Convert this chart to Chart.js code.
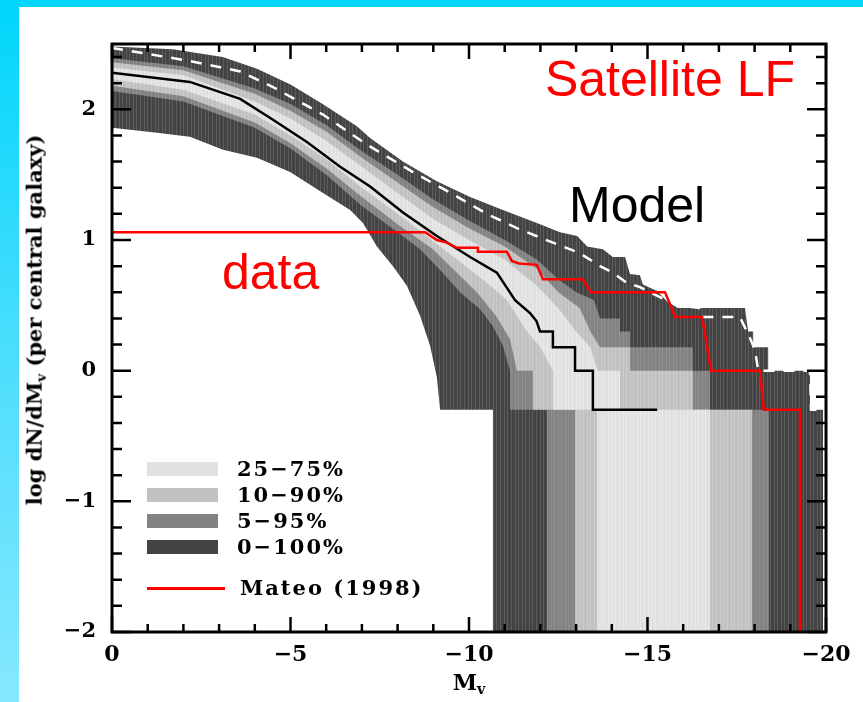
<!DOCTYPE html>
<html>
<head>
<meta charset="utf-8">
<script src="https://cdn.jsdelivr.net/npm/chart.js@4.4.0/dist/chart.umd.min.js"></script>
<style>
    html, body { margin: 0; padding: 0; }
    body {
        width: 863px; height: 702px; overflow: hidden; position: relative;
        background: linear-gradient(to bottom, #00d6fb 0%, #52defd 55%, #86e8ff 100%);
    }
    #panel { position: absolute; left: 19px; top: 7px; width: 844px; height: 695px; background: #fff; }
    #chart { position: absolute; left: 0; top: 0; }
    .big { position: absolute; font-family: 'Liberation Sans', Arial, sans-serif; font-size: 50px; line-height: 50px; white-space: nowrap; }
    .lab { position: absolute; font-family: 'DejaVu Serif', serif; font-weight: bold; white-space: nowrap; line-height: 1; }
    .lab sub { font-size: 65%; vertical-align: -0.3em; }
    .leg-row { position: absolute; left: 147px; height: 20px; }
    .leg-box { position: absolute; left: 0; top: 3px; width: 71px; height: 14px; }
    .leg-text { position: absolute; left: 90px; top: 0; line-height: 20px; font-size: 21px; letter-spacing: 2px; }
</style>
</head>
<body>
<div id="panel"></div>
<canvas id="chart" width="863" height="702"></canvas>

<div class="big" style="right: 68px; top: 54px; color: #ff0000;">Satellite LF</div>
<div class="big" style="left: 569px; top: 180px; color: #000;">Model</div>
<div class="big" style="left: 222px; top: 247px; color: #ff0000;">data</div>

<div class="lab" style="left: 36px; top: 320px; font-size: 21px; transform: translate(-50%, -50%) rotate(-90deg);">log dN/dM<sub>v</sub> (per central galaxy)</div>
<div class="lab" style="left: 469px; top: 671px; font-size: 22px; transform: translateX(-50%);">M<sub>v</sub></div>

<div id="legend"></div>

<script>
// Model percentile bands: [M_V, log dN/dM_V] along each boundary
const p100 = [[0, 2.48], [-1.7, 2.46], [-3.1, 2.40], [-4.06, 2.31], [-5.0, 2.19], [-5.9, 2.04], [-6.86, 1.87],
    [-7.23, 1.78], [-8.15, 1.60], [-9.1, 1.45], [-10.03, 1.33], [-10.95, 1.23], [-11.9, 1.13], [-12.55, 1.06],
    [-13.03, 1.03], [-13.31, 0.95], [-13.75, 0.93], [-14.03, 0.87], [-14.37, 0.87], [-14.51, 0.74], [-14.79, 0.73],
    [-14.87, 0.66], [-15.27, 0.61], [-15.55, 0.53], [-15.85, 0.48], [-17.73, 0.48], [-17.82, 0.30], [-17.96, 0.30],
    [-17.96, 0.18], [-18.38, 0.18], [-18.38, 0.0], [-19.55, 0.0], [-19.55, -0.30], [-19.92, -0.30]];
const p0 = [[0, 1.86], [-1.26, 1.82], [-2.18, 1.79], [-3.11, 1.69], [-4.06, 1.63], [-4.99, 1.52], [-5.91, 1.36],
    [-6.67, 1.23], [-7.03, 1.13], [-7.42, 0.95], [-7.87, 0.80], [-8.26, 0.65], [-8.63, 0.42], [-8.91, 0.19],
    [-9.10, -0.05], [-9.19, -0.30], [-10.67, -0.30], [-10.67, -2], [-19.92, -2]];
const p95 = [[0, 2.39], [-2, 2.33], [-4, 2.16], [-5, 2.04], [-6, 1.88], [-7, 1.68], [-8, 1.50], [-9, 1.31],
    [-10, 1.15], [-11, 1.00], [-11.9, 0.85], [-12.5, 0.70], [-13.0, 0.60], [-13.5, 0.54], [-13.67, 0.40],
    [-14.23, 0.40], [-14.23, 0.30], [-14.51, 0.30], [-14.51, 0.18], [-16.27, 0.18], [-16.27, 0.0], [-16.75, 0.0],
    [-16.75, -0.30], [-18.4, -0.30]];
const p5 = [[0, 2.14], [-2, 2.06], [-4, 1.86], [-5, 1.70], [-6, 1.50], [-7, 1.26], [-8, 1.06], [-8.63, 0.93],
    [-9.19, 0.77], [-9.75, 0.60], [-10.31, 0.47], [-10.67, 0.34], [-10.95, 0.19], [-11.15, 0.0], [-11.15, -0.30],
    [-12.18, -0.30], [-12.18, -2], [-18.4, -2]];
const p90 = [[0, 2.36], [-2, 2.30], [-4, 2.12], [-5, 1.99], [-6, 1.83], [-7, 1.63], [-8, 1.44], [-9, 1.25],
    [-10, 1.09], [-11, 0.95], [-11.9, 0.78], [-12.5, 0.60], [-13.1, 0.48], [-13.4, 0.30], [-13.67, 0.18],
    [-14.51, 0.18], [-14.51, 0.0], [-16.27, 0.0], [-16.27, -0.30], [-17.93, -0.30]];
const p10 = [[0, 2.18], [-2, 2.10], [-4, 1.90], [-5, 1.74], [-6, 1.55], [-7, 1.33], [-8, 1.12], [-8.99, 0.93],
    [-9.66, 0.75], [-10.22, 0.60], [-10.78, 0.41], [-11.15, 0.24], [-11.34, 0.0], [-11.79, 0.0], [-11.79, -0.30],
    [-12.97, -0.30], [-12.97, -2], [-17.93, -2]];
const p75 = [[0, 2.32], [-2, 2.26], [-4, 2.06], [-5, 1.93], [-6, 1.76], [-7, 1.56], [-8, 1.36], [-9, 1.16],
    [-10, 1.00], [-11, 0.85], [-11.9, 0.65], [-12.5, 0.48], [-13.0, 0.30], [-13.4, 0.18], [-13.6, 0.0],
    [-14.23, 0.0], [-14.23, -0.30], [-16.75, -0.30]];
const p25 = [[0, 2.23], [-2, 2.15], [-4, 1.96], [-5, 1.80], [-6, 1.62], [-7, 1.40], [-8, 1.20], [-9, 0.99],
    [-10, 0.78], [-10.6, 0.65], [-11.06, 0.54], [-11.62, 0.30], [-12.0, 0.18], [-12.35, 0.0], [-12.35, -0.30],
    [-13.59, -0.30], [-13.59, -2], [-16.75, -2]];

// median (solid black) and mean (white dashed)
const median = [[0, 2.28], [-2.18, 2.21], [-3.59, 2.08], [-4.51, 1.92], [-5.46, 1.75], [-6.39, 1.56], [-7.23, 1.41],
    [-8.15, 1.21], [-9.10, 1.03], [-10.03, 0.87], [-10.78, 0.75], [-11.29, 0.54], [-11.71, 0.44], [-11.89, 0.38],
    [-11.99, 0.30], [-12.35, 0.30], [-12.35, 0.18], [-12.97, 0.18], [-12.97, 0.0], [-13.47, 0.0], [-13.47, -0.30],
    [-15.27, -0.30]];
const mean = [[0, 2.47], [-2.18, 2.37], [-3.59, 2.29], [-4.51, 2.17], [-5.91, 1.96], [-7.14, 1.73], [-8.43, 1.52],
    [-9.55, 1.35], [-10.50, 1.20], [-11.43, 1.08], [-12.35, 0.98], [-13.1, 0.90], [-13.67, 0.80], [-14.03, 0.75],
    [-14.43, 0.67], [-14.79, 0.64], [-15.29, 0.57], [-15.85, 0.50], [-16.47, 0.48], [-16.53, 0.41], [-17.59, 0.41],
    [-17.82, 0.28], [-18.01, 0.16], [-18.10, 0.0], [-19.55, 0.0], [-19.58, -0.30], [-19.92, -0.30]];

// Mateo (1998) observed satellites
const mateo = [[0, 1.06], [-8.77, 1.06], [-9.10, 1.00], [-9.38, 0.98], [-9.66, 0.94], [-10.25, 0.94], [-10.25, 0.91],
    [-11.06, 0.91], [-11.20, 0.84], [-11.40, 0.82], [-11.90, 0.81], [-12.07, 0.70], [-13.19, 0.70], [-13.30, 0.65],
    [-13.42, 0.60], [-15.49, 0.60], [-15.69, 0.47], [-15.77, 0.41], [-16.53, 0.41], [-16.78, 0.0], [-18.15, 0.0],
    [-18.26, -0.30], [-19.27, -0.30], [-19.27, -2]];

const bandNames = ['25-75%', '10-90%', '5-95%', '0-100%'];
const bandColors = ['#e1e1e1', '#c1c1c1', '#838383', '#434343'];
const stripeColors = ['#e9e9e9', '#cbcbcb', '#8e8e8e', '#5c5c5c'];
const xTicks = [0, -5, -10, -15, -20];
const yTicks = [-2, -1, 0, 1, 2];

const pts = arr => arr.map(([x, y]) => ({ x, y }));
const fmt = v => (v < 0 ? '\u2212' + Math.abs(v) : String(v));

// thin vertical stripes like the binned model histogram
const stripeOffsets = [0, 3, 7, 11, 14, 18, 21, 25, 28, 32];
function striped(base, line) {
    const c = document.createElement('canvas');
    c.width = 36; c.height = 8;
    const g = c.getContext('2d');
    g.fillStyle = base; g.fillRect(0, 0, 36, 8);
    g.fillStyle = line;
    stripeOffsets.forEach(o => g.fillRect(o, 0, 1, 8));
    return g.createPattern(c, 'repeat');
}

function edge(arr) {
    return { data: pts(arr), borderWidth: 0, pointRadius: 0, fill: false, tension: 0 };
}
function band(arr, i, target) {
    return { data: pts(arr), borderWidth: 0, pointRadius: 0, tension: 0,
        backgroundColor: striped(bandColors[i], stripeColors[i]), fill: target };
}

// frame with inward major / minor ticks on all four sides
const framePlugin = {
    id: 'frame',
    afterDatasetsDraw(chart) {
        const { ctx, chartArea: a, scales: { x, y } } = chart;
        ctx.save();
        ctx.strokeStyle = '#000';
        ctx.lineWidth = 2.5;
        ctx.beginPath();
        for (let m = 0; m >= -20; m--) {
            const px = x.getPixelForValue(m);
            const len = m % 5 === 0 ? 15 : 8;
            ctx.moveTo(px, a.bottom); ctx.lineTo(px, a.bottom - len);
            ctx.moveTo(px, a.top); ctx.lineTo(px, a.top + len);
        }
        for (let k = -10; k <= 12; k++) {
            const py = y.getPixelForValue(k / 5);
            const len = k % 5 === 0 ? 19 : 10;
            ctx.moveTo(a.left, py); ctx.lineTo(a.left + len, py);
            ctx.moveTo(a.right, py); ctx.lineTo(a.right - len, py);
        }
        ctx.stroke();
        ctx.lineWidth = 3;
        ctx.strokeRect(a.left, a.top, a.right - a.left, a.bottom - a.top);
        ctx.restore();
    }
};

new Chart(document.getElementById('chart'), {
    type: 'line',
    data: {
        datasets: [
            { data: pts(mateo), borderColor: '#ff0000', borderWidth: 2.5, pointRadius: 0, fill: false, tension: 0 },
            { data: pts(median), borderColor: '#000', borderWidth: 2.5, pointRadius: 0, fill: false, tension: 0 },
            { data: pts(mean), borderColor: '#fff', borderWidth: 2.5, borderDash: [11, 9], pointRadius: 0, fill: false, tension: 0 },
            band(p75, 0, 4), edge(p25),
            band(p90, 1, 6), edge(p10),
            band(p95, 2, 8), edge(p5),
            band(p100, 3, 10), edge(p0)
        ]
    },
    options: {
        responsive: false,
        animation: false,
        layout: { padding: { top: 44, right: 37, bottom: 0, left: 0 } },
        plugins: { legend: { display: false }, tooltip: { enabled: false } },
        scales: {
            x: {
                type: 'linear', min: -20, max: 0, reverse: true,
                grid: { display: false, drawTicks: false }, border: { display: false },
                afterFit: s => { s.height = 70; },
                afterBuildTicks: s => { s.ticks = xTicks.map(v => ({ value: v })); },
                ticks: { color: '#000', padding: 10, maxRotation: 0, autoSkip: false, callback: fmt,
                    font: { family: 'DejaVu Serif', weight: 'bold', size: 22 } }
            },
            y: {
                type: 'linear', min: -2, max: 2.5,
                grid: { display: false, drawTicks: false }, border: { display: false },
                afterFit: s => { s.width = 112; },
                afterBuildTicks: s => { s.ticks = yTicks.map(v => ({ value: v })); },
                ticks: { color: '#000', padding: 16, callback: fmt,
                    font: { family: 'DejaVu Serif', weight: 'bold', size: 21 } }
            }
        }
    },
    plugins: [framePlugin]
});

// legend, drawn inside the plot like the original
const legend = document.getElementById('legend');
bandNames.forEach((name, i) => {
    const row = document.createElement('div');
    row.className = 'leg-row';
    row.style.top = (459 + i * 26) + 'px';
    row.innerHTML = `<div class="leg-box" style="background:${bandColors[i]}"></div>` +
        `<div class="lab leg-text">${name.replace('-', '\u2212')}</div>`;
    legend.appendChild(row);
});
const mrow = document.createElement('div');
mrow.className = 'leg-row';
mrow.style.top = '578px';
mrow.innerHTML = '<div style="position:absolute;left:0;top:9px;width:78px;height:2.5px;background:#ff0000"></div>' +
    '<div class="lab leg-text" style="left:93px">Mateo (1998)</div>';
legend.appendChild(mrow);
</script>
</body>
</html>
